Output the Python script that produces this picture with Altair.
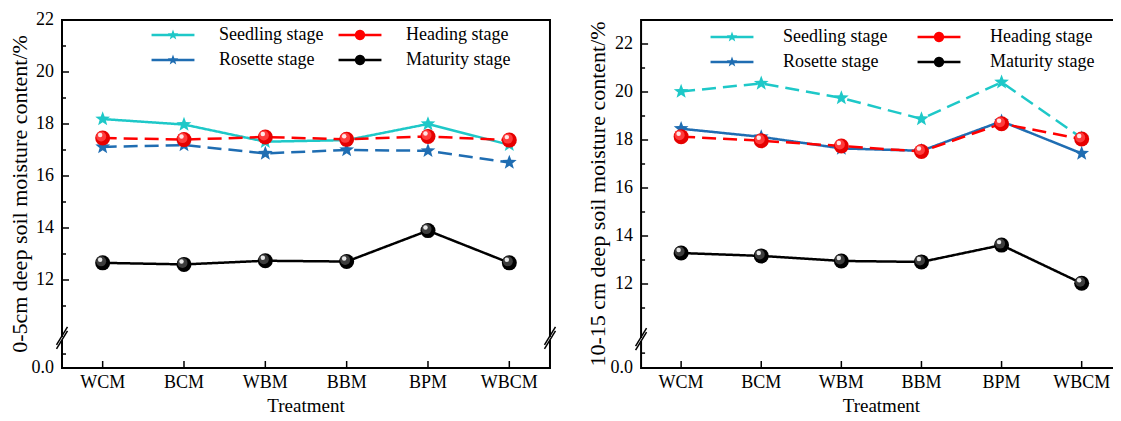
import math
import altair as alt
import pandas as pd

treatments = ["WCM", "BCM", "WBM", "BBM", "BPM", "WBCM"]
stages = ["Seedling stage", "Rosette stage", "Heading stage", "Maturity stage"]

# 0-5 cm layer
seedling_0_5 = [18.19, 17.98, 17.32, 17.38, 18.00, 17.20]
rosette_0_5 = [17.12, 17.19, 16.87, 17.00, 16.97, 16.52]
heading_0_5 = [17.46, 17.40, 17.50, 17.41, 17.52, 17.38]
maturity_0_5 = [12.66, 12.60, 12.74, 12.71, 13.90, 12.66]

# 10-15 cm layer
seedling_10_15 = [20.02, 20.36, 19.75, 18.88, 20.41, 18.08]
rosette_10_15 = [18.47, 18.13, 17.65, 17.55, 18.78, 17.44]
heading_10_15 = [18.14, 17.97, 17.75, 17.52, 18.68, 18.04]
maturity_10_15 = [13.29, 13.17, 12.96, 12.92, 13.62, 12.03]

# axis ticks and labels
major_ticks = [0, 12, 14, 16, 18, 20, 22]
major_labels = ["0.0", "12", "14", "16", "18", "20", "22"]
minor_ticks_0_5 = [4.3, 11, 13, 15, 17, 19, 21]
minor_ticks_10_15 = [4.7, 11, 13, 15, 17, 19, 21]
y_title_0_5 = "0-5cm deep soil moisture content/%"
y_title_10_15 = "10-15 cm deep soil moisture content/%"
x_title = "Treatment"

stage_colors = ["#1ec8c8", "#1f6db2", "#ff0000", "#000000"]
SOLID = [1, 0]
DASH = [14, 7]
dash_0_5 = [SOLID, DASH, DASH, SOLID]
dash_10_15 = [DASH, SOLID, DASH, SOLID]

FONT = "Liberation Serif"
W, H = 1051, 348
UNIT = 81.33
X_MAX = W / UNIT

PANELS = {
    "L": dict(x0=0.0, step=1.0, top=22, ppu=26.0, brk=9.85, low=32.0,
              title=y_title_0_5, title_off=-42,
              vals=[seedling_0_5, rosette_0_5, heading_0_5, maturity_0_5],
              dashes=dash_0_5, minor=minor_ticks_0_5, edges=[0, 6], leg=(86, 6, 37, 11)),
    "R": dict(x0=7.12, step=0.985, top=23, ppu=24.0, brk=9.79, low=31.0,
              title=y_title_10_15, title_off=-43,
              vals=[seedling_10_15, rosette_10_15, heading_10_15, maturity_10_15],
              dashes=dash_10_15, minor=minor_ticks_10_15, edges=[0], leg=(645, 8, 42, 26)),
}


def seg(p):
    return (f"(datum.value >= {p['brk']} ? {H} - ({p['top']} - datum.value) * {p['ppu']}"
            f" : datum.value * {p['low'] / p['brk']})")


DISP = f"datum.panel == 'L' ? {seg(PANELS['L'])} : {seg(PANELS['R'])}"


def poly_path(n, ro, ri=None):
    pts = []
    for k in range(n):
        ang = math.radians(-90 + 360.0 * k / n)
        r = ro if (ri is None or k % 2 == 0) else ri
        pts.append(f"{r * math.cos(ang):.3f},{r * math.sin(ang):.3f}")
    return "M" + "L".join(pts) + "Z"


HL, HT = 3.9, 0.22
bar = f"M{-HL},{-HT}L{HL},{-HT}L{HL},{HT}L{-HL},{HT}Z"
star_sym = poly_path(10, 1.0, 0.42)
ball_sym = poly_path(24, 0.95)
legend_shapes = [bar + star_sym, bar + star_sym, bar + ball_sym, bar + ball_sym]

# ---- tables built from the arrays above ----
series_rows, tick_rows, xlab_rows, frame_rows, brk_rows = [], [], [], [], []
for pk, p in PANELS.items():
    x0, st = p["x0"], p["step"]
    for s, arr in zip(stages, p["vals"]):
        for i, (t, v) in enumerate(zip(treatments, arr)):
            series_rows.append({"panel": pk, "stage": s, "key": pk + "_" + s, "treatment": t,
                                "xpos": x0 + (i + 0.5) * st, "value": v})
    for v, lab in zip(major_ticks, major_labels):
        tick_rows.append({"panel": pk, "value": v, "kind": "major", "label": lab, "x0": x0})
    for v in p["minor"]:
        tick_rows.append({"panel": pk, "value": v, "kind": "minor", "label": "", "x0": x0})
    for i, t in enumerate(treatments):
        xlab_rows.append({"panel": pk, "treatment": t, "xpos": x0 + (i + 0.5) * st, "yb": 0})
    frame_rows.append({"panel": pk, "x0": x0, "x1": x0 + 6 * st, "xc": x0 + 3 * st,
                       "yb": 0, "yt": H, "ym": H / 2, "title": p["title"], "xt": x_title})
    for e in p["edges"]:
        brk_rows.append({"panel": pk, "bx": x0 + e * st, "value": p["brk"]})

series = pd.DataFrame(series_rows)
ticks = pd.DataFrame(tick_rows)
xlabs = pd.DataFrame(xlab_rows)
frames = pd.DataFrame(frame_rows)
brks = pd.DataFrame(brk_rows)
stage_table = pd.DataFrame({"stage": stages})
keys = [pk + "_" + s for pk in PANELS for s in stages]
key_dashes = [d for pk in PANELS for d in PANELS[pk]["dashes"]]

xs = alt.Scale(domain=[0, X_MAX], nice=False, zero=False)
ys = alt.Scale(domain=[0, H], nice=False, zero=False)


def X(f):
    return alt.X(f"{f}:Q", scale=xs, axis=None)


def Yf(f):
    return alt.Y(f"{f}:Q", scale=ys, axis=None)


cscale = alt.Scale(domain=stages, range=stage_colors)
txt = dict(font=FONT, color="black")

frame_layer = alt.Chart(frames).mark_rect(fill="white", fillOpacity=0, stroke="black", strokeWidth=2).encode(
    x=X("x0"), x2=alt.X2("x1"), y=Yf("yb"), y2=alt.Y2("yt"))

sbase = alt.Chart(series).transform_calculate(disp=DISP)
lines = sbase.mark_line(strokeWidth=2.5).encode(
    x=X("xpos"), y=Yf("disp"),
    color=alt.Color("stage:N", scale=cscale, legend=None),
    strokeDash=alt.StrokeDash("key:N", scale=alt.Scale(domain=keys, range=key_dashes), legend=None),
    detail="key:N")
stars = sbase.transform_filter((alt.datum.stage == stages[0]) | (alt.datum.stage == stages[1])).mark_point(
    shape=star_sym, filled=True, size=240, opacity=1, strokeWidth=0).encode(
    x=X("xpos"), y=Yf("disp"), color=alt.Color("stage:N", scale=cscale, legend=None))
balls = []
for s, body, mid, hi in [(stages[2], "#e60000", "#ff3b3b", "#ffe6e6"),
                         (stages[3], "#000000", "#3c3c3c", "#e8e8e8")]:
    b = sbase.transform_filter(alt.datum.stage == s)
    balls.append(b.mark_point(shape="circle", filled=True, size=225, color=body, opacity=1).encode(
        x=X("xpos"), y=Yf("disp")))
    balls.append(b.mark_point(shape="circle", filled=True, size=100, color=mid, opacity=1,
                              xOffset=-1.5, yOffset=-1.5).encode(x=X("xpos"), y=Yf("disp")))
    balls.append(b.mark_point(shape="circle", filled=True, size=20, color=hi, opacity=1,
                              xOffset=-2.5, yOffset=-3).encode(x=X("xpos"), y=Yf("disp")))

tbase = alt.Chart(ticks).transform_calculate(disp=DISP)
ymaj = tbase.transform_filter((alt.datum.kind == "major") & (alt.datum.value > 0)).mark_rule(
    color="black", strokeWidth=1.5, x2Offset=7).encode(x=X("x0"), x2=alt.X2("x0"), y=Yf("disp"))
ymin = tbase.transform_filter(alt.datum.kind == "minor").mark_rule(
    color="black", strokeWidth=1.5, x2Offset=4).encode(x=X("x0"), x2=alt.X2("x0"), y=Yf("disp"))
ylab = tbase.transform_filter(alt.datum.kind == "major").mark_text(
    align="right", baseline="middle", xOffset=-8, fontSize=18, **txt).encode(
    x=X("x0"), y=Yf("disp"), text="label:N")

xtk = alt.Chart(xlabs).mark_rule(color="black", strokeWidth=1.5, y2Offset=-7).encode(
    x=X("xpos"), y=Yf("yb"), y2=alt.Y2("yb"))
xlab = alt.Chart(xlabs).mark_text(baseline="top", dy=6, fontSize=18, **txt).encode(
    x=X("xpos"), y=Yf("yb"), text="treatment:N")
xtitle = alt.Chart(frames).mark_text(baseline="top", dy=29, fontSize=19, **txt).encode(
    x=X("xc"), y=Yf("yb"), text="xt:N")
ytitles = [alt.Chart(frames).transform_filter(alt.datum.panel == pk).mark_text(
    angle=270, align="center", baseline="middle", xOffset=p["title_off"], fontSize=22, **txt).encode(
    x=X("x0"), y=Yf("ym"), text="title:N") for pk, p in PANELS.items()]

bbase = alt.Chart(brks).transform_calculate(disp=DISP)
breaks = [bbase.mark_rule(color="white", strokeWidth=5, yOffset=1, y2Offset=4).encode(
    x=X("bx"), y=Yf("disp"), y2=alt.Y2("disp"))]
for dy in (0, 4):
    breaks.append(bbase.mark_rule(color="black", strokeWidth=1.5, xOffset=-5.5, x2Offset=5.5,
                                  yOffset=9 + dy, y2Offset=-9 + dy).encode(
        x=X("bx"), x2=alt.X2("bx"), y=Yf("disp"), y2=alt.Y2("disp")))


def legend_layer(pk):
    lx, ly, loff, cpad = PANELS[pk]["leg"]
    leg = alt.Legend(title=None, orient="none", legendX=lx, legendY=ly, columns=2,
                     symbolSize=121, symbolStrokeWidth=0, symbolOpacity=1,
                     labelFont=FONT, labelFontSize=18, labelColor="black",
                     labelOffset=loff, symbolOffset=16, columnPadding=cpad, rowPadding=7, padding=0)
    return alt.Chart(stage_table).transform_filter("false").mark_point(filled=True, opacity=1).encode(
        color=alt.Color("stage:N", scale=cscale, legend=leg),
        shape=alt.Shape("stage:N", scale=alt.Scale(domain=stages, range=legend_shapes), legend=leg))


chart = alt.layer(
    frame_layer, lines, ymaj, ymin, xtk, *breaks, stars, *balls,
    ylab, xlab, xtitle, *ytitles, legend_layer("L"), legend_layer("R")
).resolve_scale(color="independent", shape="independent").properties(
    width=W, height=H,
    autosize=alt.AutoSizeParams(type="none"),
    padding={"left": 54, "top": 12, "right": 0, "bottom": 45},
).configure_view(strokeWidth=0)

chart.save("out.html", embed_options={"renderer": "svg", "actions": False})
